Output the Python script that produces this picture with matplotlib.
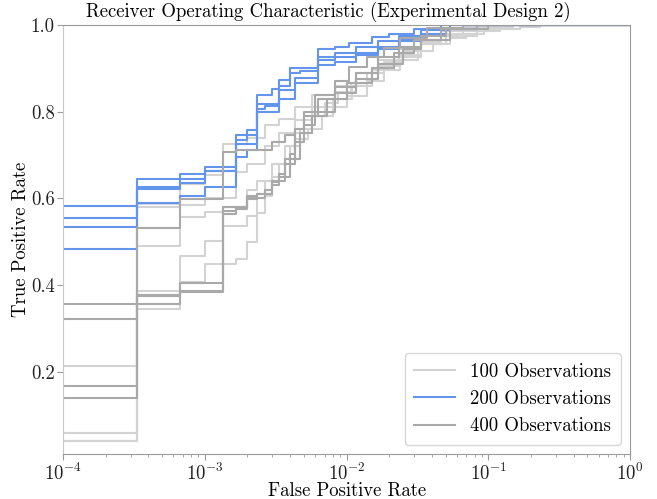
from matplotlib import pyplot as plt
import numpy as np

plt.rcParams['font.family'] = 'serif'
plt.rcParams['font.serif'] = ['cmr10']
plt.rcParams['mathtext.fontset'] = 'cm'
plt.rcParams['axes.formatter.use_mathtext'] = True
plt.rcParams['axes.unicode_minus'] = False

# number of negatives in the test set -> fpr = false positives / n_neg
n_neg = 3000.0

# ROC breakpoints: false positive count, true positive rate (steps-post)
# 100 observations
fp_100 = [
    [0, 1, 2, 3, 4, 6, 8, 10, 13, 17, 25, 35, 50, 70, 100, 140, 200, 300, 3000],
    [0, 1, 2, 3, 5, 6, 8, 10, 13, 17, 25, 35, 50, 70, 100, 150, 250, 400, 3000],
    [0, 1, 2, 3, 4, 6, 7, 9, 11, 13, 17, 24, 33, 45, 65, 100, 150, 250, 500, 3000],
    [0, 1, 2, 3, 4, 6, 7, 8, 10, 12, 14, 17, 21, 26, 32, 42, 55, 75, 100, 140, 200, 300, 450, 3000],
    [0, 1, 2, 3, 5, 6, 7, 8, 9, 11, 13, 16, 20, 24, 30, 42, 55, 72, 95, 122, 160, 210, 280, 360, 500, 700, 3000],
]
tp_100 = [
    [0.214, 0.587, 0.634, 0.653, 0.726, 0.74, 0.77, 0.784, 0.81, 0.838, 0.86, 0.888, 0.92, 0.945, 0.965, 0.985, 0.995, 1.0, 1.0],
    [0.058, 0.58, 0.585, 0.60, 0.66, 0.68, 0.72, 0.75, 0.78, 0.81, 0.845, 0.875, 0.905, 0.93, 0.955, 0.98, 0.995, 1.0, 1.0],
    [0.058, 0.489, 0.556, 0.568, 0.58, 0.62, 0.64, 0.68, 0.72, 0.75, 0.79, 0.83, 0.86, 0.895, 0.925, 0.955, 0.975, 0.99, 1.0, 1.0],
    [0.040, 0.386, 0.468, 0.502, 0.537, 0.56, 0.60, 0.64, 0.68, 0.72, 0.76, 0.79, 0.82, 0.845, 0.865, 0.89, 0.915, 0.94, 0.96, 0.975, 0.987, 0.995, 1.0, 1.0],
    [0.040, 0.344, 0.406, 0.448, 0.46, 0.50, 0.567, 0.606, 0.65, 0.69, 0.737, 0.76, 0.79, 0.81, 0.835, 0.87, 0.895, 0.918, 0.94, 0.957, 0.97, 0.98, 0.986, 0.99, 0.995, 1.0, 1.0],
]

# 200 observations
fp_200 = [
    [0, 1, 2, 3, 5, 6, 7, 9, 10, 12, 19, 25, 31, 45, 60, 90, 140, 3000],
    [0, 1, 2, 3, 5, 6, 7, 10, 12, 14, 19, 25, 35, 50, 70, 100, 160, 3000],
    [0, 1, 2, 3, 5, 7, 8, 10, 13, 19, 25, 35, 50, 70, 100, 150, 250, 3000],
    [0, 1, 2, 3, 5, 6, 7, 10, 13, 19, 25, 35, 50, 70, 100, 150, 250, 3000],
]
tp_200 = [
    [0.582, 0.645, 0.656, 0.672, 0.745, 0.757, 0.838, 0.853, 0.872, 0.90, 0.944, 0.95, 0.958, 0.972, 0.98, 0.99, 1.0, 1.0],
    [0.555, 0.626, 0.645, 0.664, 0.734, 0.745, 0.818, 0.86, 0.888, 0.893, 0.927, 0.935, 0.948, 0.962, 0.975, 0.988, 1.0, 1.0],
    [0.535, 0.622, 0.635, 0.664, 0.726, 0.807, 0.812, 0.85, 0.877, 0.919, 0.925, 0.935, 0.95, 0.965, 0.98, 0.99, 1.0, 1.0],
    [0.484, 0.59, 0.605, 0.626, 0.695, 0.711, 0.799, 0.83, 0.865, 0.908, 0.915, 0.93, 0.945, 0.962, 0.978, 0.99, 1.0, 1.0],
]

# 400 observations
fp_400 = [
    [0, 1, 2, 4, 5, 9, 11, 13, 15, 18, 25, 31, 42, 55, 72, 110, 200, 3000],
    [0, 1, 2, 4, 6, 7, 9, 10, 11, 12, 13, 15, 19, 25, 35, 50, 70, 100, 150, 250, 3000],
    [0, 1, 2, 4, 5, 6, 7, 9, 10, 12, 14, 17, 22, 30, 45, 65, 90, 140, 250, 3000],
    [0, 1, 2, 4, 5, 6, 8, 9, 11, 13, 15, 18, 25, 35, 50, 75, 100, 160, 300, 3000],
]
tp_400 = [
    [0.356, 0.531, 0.598, 0.707, 0.711, 0.730, 0.745, 0.761, 0.80, 0.838, 0.87, 0.904, 0.927, 0.946, 0.97, 0.993, 1.0, 1.0],
    [0.321, 0.378, 0.404, 0.58, 0.598, 0.61, 0.637, 0.656, 0.691, 0.703, 0.761, 0.79, 0.83, 0.857, 0.89, 0.925, 0.95, 0.975, 0.99, 1.0, 1.0],
    [0.168, 0.356, 0.386, 0.565, 0.579, 0.606, 0.61, 0.63, 0.65, 0.69, 0.75, 0.79, 0.83, 0.865, 0.90, 0.935, 0.965, 0.99, 1.0, 1.0],
    [0.139, 0.374, 0.384, 0.57, 0.575, 0.60, 0.62, 0.64, 0.68, 0.73, 0.77, 0.80, 0.842, 0.875, 0.91, 0.945, 0.966, 0.99, 1.0, 1.0],
]

groups = [(fp_100, tp_100, 'lightgray', '100 Observations'),
          (fp_200, tp_200, 'cornflowerblue', '200 Observations'),
          (fp_400, tp_400, 'darkgray', '400 Observations')]

fig = plt.figure(figsize=(6.57, 4.99), dpi=100)
ax = fig.add_axes([0.096, 0.09, 0.863, 0.86])
ax.set_xscale('log')

for fps, tps, col, lab in groups:
    for i in range(len(fps)):
        fpr = np.array(fps[i]) / n_neg
        ax.plot(fpr, tps[i], drawstyle='steps-post', color=col, lw=1.5,
                label=lab if i == 0 else None)

ax.set_xlim(1e-4, 1)
ax.set_ylim(0.01, 1.0)
ax.set_yticks([0.2, 0.4, 0.6, 0.8, 1.0])
ax.set_yticklabels(['0.2', '0.4', '0.6', '0.8', '1.0'])
for s in ['top', 'right', 'bottom']:
    ax.spines[s].set_color('#9a9a9a')
ax.spines['left'].set_color('#c8c8c8')
ax.tick_params(which='both', colors='#9a9a9a', labelcolor='#222222', labelsize=13.5)
ax.tick_params(which='major', length=4, pad=2)
ax.tick_params(which='minor', length=2)

fig.suptitle('Receiver Operating Characteristic (Experimental Design 2)', fontsize=13.5,
             y=0.976, va='center')
ax.set_xlabel('False Positive Rate', fontsize=13.5)
ax.set_ylabel('True Positive Rate', fontsize=13.5)
ax.xaxis.set_label_coords(0.5, -0.066)
ax.yaxis.set_label_coords(-0.058, 0.5)
ax.legend(loc='lower right', fontsize=13.5, borderpad=0.5, handlelength=2.2)

plt.savefig('out.png', dpi=100)
